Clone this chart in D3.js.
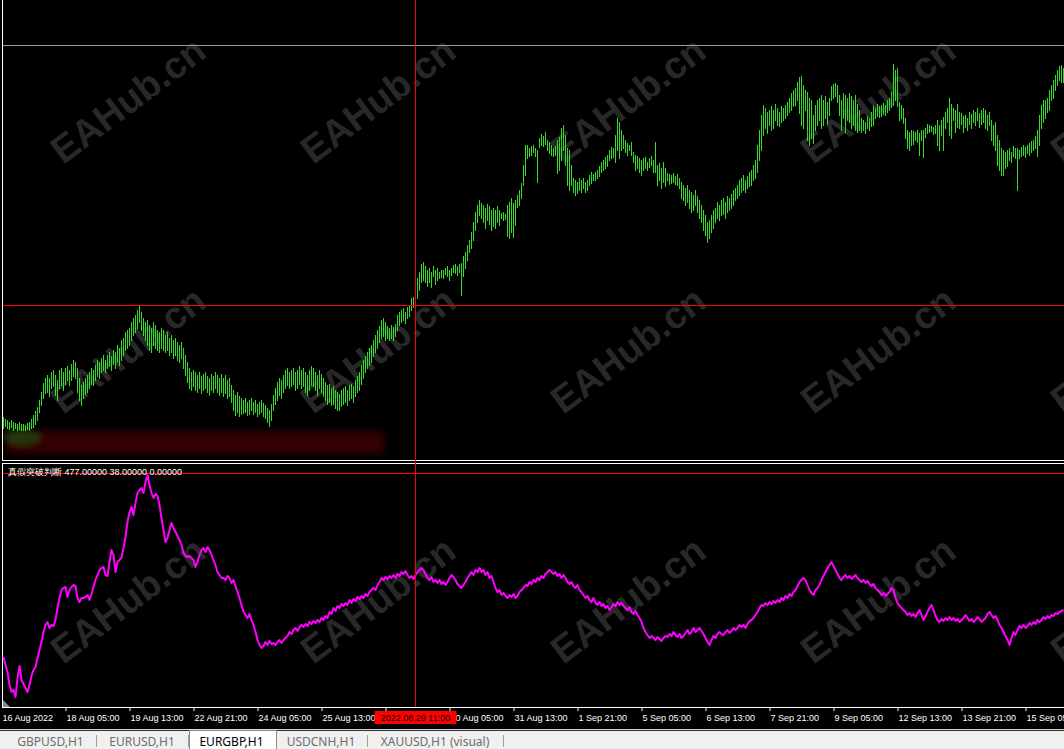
<!DOCTYPE html>
<html>
<head>
<meta charset="utf-8">
<script src="https://cdn.jsdelivr.net/npm/d3@7"></script>
<style>
  body { margin: 0; background: #000; overflow: hidden; }
  svg { display: block; }
</style>
</head>
<body>
<script>
// EURGBP H1, one bar per hour, prices in points (price * 10000)
const highs = [
  8413,8411,8410,8408,8410,8408,8407,8406,8408,8406, 8406,8405,8407,8408,8411,8415,8419,8423,8430,8438,
  8447,8452,8455,8452,8458,8460,8455,8450,8460,8462, 8458,8462,8464,8460,8466,8470,8468,8462,8452,8445,
  8448,8452,8455,8458,8462,8460,8465,8470,8468,8472, 8475,8470,8475,8478,8474,8480,8478,8485,8482,8490,
  8492,8498,8500,8502,8508,8512,8515,8520,8524,8518, 8512,8508,8510,8505,8502,8508,8505,8500,8498,8502,
  8500,8495,8498,8492,8495,8490,8492,8488,8485,8488, 8482,8475,8468,8462,8458,8460,8458,8455,8458,8454,
  8456,8458,8454,8452,8456,8454,8458,8455,8452,8456, 8452,8455,8450,8452,8445,8440,8435,8438,8434,8432,
  8430,8432,8428,8430,8432,8428,8430,8426,8428,8430, 8427,8425,8422,8420,8426,8435,8442,8448,8452,8450,
  8455,8460,8462,8458,8460,8462,8458,8460,8464,8460, 8462,8458,8455,8460,8464,8462,8458,8455,8460,8456,
  8452,8448,8445,8446,8442,8444,8440,8438,8436,8440, 8442,8444,8440,8445,8446,8444,8450,8454,8458,8465,
  8470,8474,8478,8482,8485,8490,8495,8500,8504,8510, 8512,8508,8504,8502,8505,8503,8506,8515,8518,8520,
  8522,8518,8523,8525,8532,8533,8545,8552,8558,8566, 8568,8564,8560,8562,8558,8564,8560,8562,8558,8560,
  8560,8562,8564,8560,8562,8565,8566,8564,8566,8567, 8574,8578,8585,8590,8598,8608,8618,8625,8630,8627,
  8625,8622,8626,8624,8620,8622,8620,8624,8620,8617, 8618,8616,8625,8628,8632,8627,8630,8635,8640,8647,
  8665,8685,8685,8682,8684,8685,8682,8680,8692,8696, 8694,8698,8690,8688,8685,8682,8684,8690,8693,8702,
  8705,8695,8682,8680,8665,8652,8650,8648,8652,8650, 8652,8648,8650,8655,8658,8656,8658,8660,8664,8668,
  8670,8673,8675,8680,8683,8682,8695,8712,8708,8700, 8695,8690,8687,8685,8688,8678,8675,8674,8672,8670,
  8672,8673,8668,8672,8674,8670,8688,8665,8667,8662, 8668,8662,8657,8656,8655,8657,8654,8656,8652,8648,
  8645,8642,8645,8640,8638,8635,8640,8634,8630,8625, 8620,8615,8608,8610,8615,8620,8622,8628,8625,8630,
  8632,8628,8634,8632,8636,8640,8642,8645,8650,8652, 8655,8650,8654,8658,8660,8665,8670,8685,8700,8715,
  8725,8722,8718,8720,8724,8720,8726,8722,8718,8724, 8722,8725,8728,8732,8737,8740,8742,8748,8753,8754,
  8745,8740,8738,8732,8730,8715,8725,8730,8732,8735, 8730,8734,8728,8732,8744,8746,8747,8745,8735,8730,
  8737,8735,8732,8737,8734,8730,8735,8726,8720,8712, 8710,8708,8714,8712,8718,8724,8722,8726,8724,8725,
  8727,8725,8730,8732,8738,8766,8760,8762,8728,8725, 8722,8712,8700,8698,8700,8699,8698,8700,8697,8700,
  8700,8702,8706,8705,8704,8703,8705,8710,8705,8710, 8713,8718,8722,8732,8726,8722,8720,8726,8718,8717,
  8714,8715,8712,8718,8716,8720,8718,8722,8717,8720, 8722,8720,8715,8718,8710,8705,8708,8695,8690,8682,
  8680,8678,8680,8682,8678,8684,8682,8682,8680,8683, 8685,8683,8685,8687,8689,8690,8694,8700,8715,8725,
  8730,8730,8732,8740,8745,8750,8755,8760,8764,8765, 8762
];
const lows = [
  8402,8404,8402,8401,8403,8400,8402,8400,8401,8400, 8400,8400,8401,8400,8402,8403,8406,8410,8418,8425,
  8432,8437,8438,8434,8442,8444,8435,8430,8442,8445, 8440,8446,8450,8445,8450,8454,8452,8438,8430,8425,
  8432,8436,8438,8442,8446,8445,8450,8454,8452,8458, 8460,8458,8462,8464,8460,8466,8462,8468,8465,8470,
  8475,8480,8482,8485,8490,8495,8498,8502,8508,8500, 8495,8490,8485,8480,8478,8485,8482,8480,8478,8482,
  8480,8478,8480,8475,8478,8472,8475,8470,8468,8472, 8462,8455,8448,8442,8440,8444,8440,8438,8442,8437,
  8440,8442,8438,8435,8440,8438,8442,8438,8435,8438, 8434,8437,8432,8434,8428,8420,8415,8418,8414,8416,
  8417,8418,8415,8416,8420,8416,8418,8414,8416,8418, 8414,8412,8408,8404,8410,8420,8426,8430,8435,8432,
  8438,8442,8445,8442,8444,8446,8440,8442,8446,8442, 8444,8438,8435,8440,8445,8444,8440,8435,8442,8438,
  8434,8430,8426,8428,8425,8426,8422,8420,8420,8424, 8426,8428,8425,8430,8432,8428,8434,8438,8440,8446,
  8452,8458,8462,8465,8468,8474,8478,8482,8488,8492, 8494,8490,8492,8490,8492,8490,8494,8500,8505,8508,
  8510,8507,8512,8514,8520,8523,8530,8532,8540,8548, 8550,8548,8544,8548,8543,8554,8546,8550,8552,8553,
  8552,8556,8554,8550,8555,8558,8557,8555,8558,8535, 8554,8562,8570,8578,8582,8590,8600,8608,8615,8612,
  8608,8602,8610,8606,8600,8604,8602,8608,8605,8612, 8610,8611,8594,8592,8598,8593,8605,8623,8625,8632,
  8645,8655,8672,8674,8675,8678,8674,8648,8683,8685, 8684,8686,8680,8677,8675,8674,8675,8657,8660,8670,
  8680,8665,8645,8640,8645,8638,8635,8637,8640,8638, 8642,8638,8640,8645,8647,8650,8650,8652,8654,8658,
  8660,8662,8664,8670,8672,8673,8668,8680,8672,8680, 8682,8678,8675,8680,8675,8668,8660,8662,8658,8655,
  8660,8662,8660,8663,8665,8658,8658,8645,8650,8642, 8648,8644,8650,8646,8647,8648,8646,8645,8642,8632,
  8630,8625,8628,8622,8618,8620,8625,8618,8612,8608, 8600,8595,8588,8592,8598,8602,8608,8612,8610,8615,
  8616,8612,8618,8620,8622,8625,8630,8632,8635,8638, 8640,8638,8642,8644,8645,8650,8652,8658,8670,8680,
  8695,8702,8697,8705,8700,8702,8710,8705,8704,8708, 8710,8712,8715,8718,8720,8724,8725,8730,8717,8705,
  8702,8720,8690,8685,8692,8687,8700,8705,8710,8702, 8705,8712,8706,8715,8730,8732,8734,8728,8715,8700,
  8712,8698,8710,8708,8702,8705,8700,8698,8700,8698, 8700,8697,8702,8700,8704,8705,8712,8714,8713,8714,
  8716,8715,8718,8720,8723,8725,8730,8724,8710,8712, 8707,8692,8682,8680,8685,8686,8690,8688,8675,8690,
  8673,8693,8697,8698,8699,8696,8697,8685,8680,8695, 8680,8702,8708,8695,8692,8710,8698,8703,8702,8706,
  8698,8703,8700,8706,8702,8708,8705,8710,8703,8706, 8708,8702,8700,8705,8690,8685,8680,8665,8660,8655,
  8655,8662,8664,8670,8668,8674,8672,8640,8672,8674, 8675,8673,8677,8675,8678,8680,8682,8674,8685,8702,
  8708,8712,8718,8720,8730,8732,8740,8745,8750,8748, 8748
];
// indicator buffer, one value per bar
const signal = [
  110,94,80,54,40,44,30,68,92,64, 56,48,40,54,72,84,90,108,124,140,
  160,174,180,168,174,172,184,208,228,244, 248,250,230,244,250,254,252,228,220,228,
  228,230,234,224,236,250,264,274,284,288, 290,274,272,300,324,314,280,300,304,308,
  328,350,380,400,410,394,418,438,444,448, 438,460,474,454,438,428,436,432,414,388,
  364,340,348,364,378,368,360,352,344,334, 318,312,310,312,308,304,290,300,314,324,
  328,320,330,324,314,304,294,280,274,268, 268,264,272,268,258,264,252,240,228,214,
  200,194,188,196,184,174,160,144,134,128, 132,140,134,142,136,138,134,140,144,138,
  144,148,152,160,156,164,168,162,170,174, 170,176,172,180,176,182,178,184,180,188,
  184,192,188,200,196,208,202,212,208,216, 212,218,214,224,218,226,222,230,226,232,
  228,236,232,240,244,248,244,254,260,268, 264,270,266,272,268,274,268,276,272,280,
  276,282,274,268,272,266,274,280,284,288, 284,276,268,264,270,260,264,258,264,256,
  260,254,260,268,274,270,264,256,252,248, 254,260,268,274,280,274,284,280,288,280,
  284,274,280,268,272,260,248,240,244,234, 238,232,228,234,230,236,228,232,240,244,
  248,254,252,260,256,264,260,268,264,272, 268,276,280,284,280,276,280,272,276,268,
  274,268,260,256,260,252,248,254,244,240, 234,228,232,224,220,228,218,214,220,212,
  216,208,212,204,210,216,212,220,214,218, 212,208,204,210,200,196,202,194,188,180,
  168,160,154,148,152,148,144,150,146,142, 148,152,150,156,152,160,154,150,156,148,
  152,158,164,156,160,168,160,164,168,162, 156,148,140,134,144,152,148,156,160,156,
  154,160,164,158,162,168,164,168,174,170, 174,168,176,182,184,188,194,200,208,214,
  212,218,214,220,216,222,218,224,220,228, 224,232,228,236,232,240,244,252,260,264,
  268,264,254,244,238,234,244,248,254,264, 272,280,288,294,300,292,284,276,268,264,
  270,274,268,272,266,270,274,268,264,260, 264,258,262,256,252,256,248,244,240,234,
  238,232,236,240,248,244,228,218,212,208, 204,200,194,198,192,196,190,198,204,194,
  184,192,200,208,214,204,192,184,180,186, 182,188,184,190,184,188,182,186,180,184,
  188,194,188,182,186,180,184,190,186,180, 184,188,196,200,194,188,192,184,174,168,
  160,152,144,134,148,160,154,164,172,168, 174,168,172,178,174,180,176,184,180,184,
  190,186,192,188,194,192,198,196,200,202, 204
];
const signalLevel = 477;
const signalTitle = "真假突破判断";
const signalValues = ["477.00000", "38.00000", "0.00000"];

// the 26 Aug 21:00 label sits under the cursor time box, so only its tick is drawn
const tickIndex = [0, 31, 63, 95, 127, 159, 191, 223, 255, 287, 319, 351, 383, 415, 447, 479, 511];
const tickLabels = ["16 Aug 2022", "18 Aug 05:00", "19 Aug 13:00", "22 Aug 21:00", "24 Aug 05:00",
  "25 Aug 13:00", "", "30 Aug 05:00", "31 Aug 13:00", "1 Sep 21:00", "5 Sep 05:00",
  "6 Sep 13:00", "7 Sep 21:00", "9 Sep 05:00", "12 Sep 13:00", "13 Sep 21:00", "15 Sep 05:00"];
const cursorIndex = 206;
const cursorLabel = "2022.08.29 11:00";
const cursorPrice = 8525;
const hlinePrice = 8785;

const tabs = ["GBPUSD,H1", "EURUSD,H1", "EURGBP,H1", "USDCNH,H1", "XAUUSD,H1 (visual)"];
const activeTab = 2;

const width = 1064;
const height = 749;
const font = "'Liberation Sans', Arial, sans-serif";

const svg = d3.select('body').append('svg')
  .attr('width', width)
  .attr('height', height);

svg.append('rect').attr('width', width).attr('height', height).attr('fill', '#000');

const x = d3.scaleLinear().domain([0, highs.length - 1]).range([3, 3 + 2 * (highs.length - 1)]);
const y = d3.scaleLinear().domain([8370, 8830]).range([460, 0]);
const ySig = d3.scaleLinear().domain([0, 488]).range([712, 468]);

const defs = svg.append('defs');
defs.append('filter').attr('id', 'blur').attr('x', '-20%').attr('y', '-50%')
  .attr('width', '140%').attr('height', '200%')
  .append('feGaussianBlur').attr('stdDeviation', 3);

// watermark
const wm = svg.append('g');
[100, 350, 600].forEach(cy => {
  [128, 378, 628, 878, 1128].forEach(cx => {
    wm.append('text')
      .attr('transform', `translate(${cx},${cy}) rotate(-37)`)
      .attr('text-anchor', 'middle')
      .attr('dominant-baseline', 'central')
      .attr('font-family', font)
      .attr('font-weight', 'bold')
      .attr('font-size', 38)
      .attr('fill', '#282828')
      .text('EAHub.cn');
  });
});

// dark glow band under the bars
const glow = svg.append('g').attr('filter', 'url(#blur)');
glow.append('rect').attr('x', 6).attr('y', 431).attr('width', 378).attr('height', 23).attr('fill', '#330000');
glow.append('ellipse').attr('cx', 22).attr('cy', 437).attr('rx', 18).attr('ry', 8).attr('fill', '#263608');

// horizontal line object
svg.append('line')
  .attr('x1', 3).attr('x2', width)
  .attr('y1', Math.round(y(hlinePrice)) + 0.5).attr('y2', Math.round(y(hlinePrice)) + 0.5)
  .attr('stroke', '#9a9a9a');

// price bars
svg.append('g').selectAll('line')
  .data(highs)
  .join('line')
  .attr('x1', (d, i) => x(i) + 0.5).attr('x2', (d, i) => x(i) + 0.5)
  .attr('y1', d => y(d))
  .attr('y2', (d, i) => y(lows[i]) + 1)
  .attr('stroke', '#32dc28')
  .attr('stroke-width', 1);

// pane borders
const border = svg.append('g').attr('stroke', '#fff').attr('stroke-width', 1);
border.append('line').attr('x1', 2.5).attr('x2', 2.5).attr('y1', 0).attr('y2', 461);
border.append('line').attr('x1', 2.5).attr('x2', 2.5).attr('y1', 463).attr('y2', 708);
border.append('line').attr('x1', 2).attr('x2', width).attr('y1', 460.5).attr('y2', 460.5);
border.append('line').attr('x1', 2).attr('x2', width).attr('y1', 463.5).attr('y2', 463.5);

// indicator pane
svg.append('line')
  .attr('x1', 3).attr('x2', width)
  .attr('y1', Math.round(ySig(signalLevel)) - 0.5).attr('y2', Math.round(ySig(signalLevel)) - 0.5)
  .attr('stroke', '#ff0000');

svg.append('path')
  .datum(signal)
  .attr('fill', 'none')
  .attr('stroke', '#ff00ff')
  .attr('stroke-width', 2)
  .attr('stroke-linejoin', 'round')
  .attr('d', d3.line().x((d, i) => x(i) + 0.5).y(d => ySig(d)));

svg.append('text')
  .attr('x', 8).attr('y', 475)
  .attr('font-family', font).attr('font-size', 9)
  .attr('fill', '#fff')
  .text(signalTitle + '  ' + signalValues.join(' '));

// crosshair
const cross = svg.append('g').attr('stroke', '#ff0000').attr('stroke-width', 1);
cross.append('line')
  .attr('x1', x(cursorIndex) + 0.5).attr('x2', x(cursorIndex) + 0.5)
  .attr('y1', 0).attr('y2', 707);
cross.append('line')
  .attr('x1', 3).attr('x2', width)
  .attr('y1', Math.round(y(cursorPrice)) + 0.5).attr('y2', Math.round(y(cursorPrice)) + 0.5);

// shift marker
svg.append('path').attr('d', 'M3,700L3,707L10,707Z').attr('fill', '#7f8c99');

// time axis
const axisG = svg.append('g').attr('transform', 'translate(0,707)');
axisG.call(d3.axisBottom(x).tickValues(tickIndex).tickSize(4)
  .tickFormat((d, i) => tickLabels[i]));
axisG.select('.domain').remove();
axisG.selectAll('.tick line').attr('stroke', '#fff').attr('transform', 'translate(0.5,0)')
  .filter(d => d === 0).remove();
axisG.selectAll('.tick text')
  .attr('fill', '#fff')
  .attr('font-family', font)
  .attr('font-size', 9)
  .attr('text-anchor', 'start')
  .attr('x', (d) => d === 0 ? -1 : 1)
  .attr('y', 14)
  .attr('dy', 0);
axisG.append('line').attr('x1', 2).attr('x2', width).attr('y1', 0.5).attr('y2', 0.5).attr('stroke', '#fff');

// cursor time label
const cx0 = x(cursorIndex) + 0.5;
svg.append('rect').attr('x', cx0 - 41).attr('y', 711).attr('width', 82).attr('height', 13).attr('fill', '#ff0000');
svg.append('text')
  .attr('x', cx0).attr('y', 721)
  .attr('text-anchor', 'middle')
  .attr('font-family', font).attr('font-size', 9)
  .attr('fill', '#000')
  .text(cursorLabel);

// tab bar
svg.append('rect').attr('x', 0).attr('y', 729).attr('width', width).attr('height', 20).attr('fill', '#f0f0f0');
svg.append('line').attr('x1', 0).attr('x2', width).attr('y1', 729.5).attr('y2', 729.5).attr('stroke', '#d8d8d8');
svg.append('line').attr('x1', 0).attr('x2', width).attr('y1', 730.5).attr('y2', 730.5).attr('stroke', '#303030');

const tabX = [6, 97, 189, 276, 368];
const tabW = [91, 92, 87, 92, 136];
const tabG = svg.append('g');
tabs.forEach((t, i) => {
  if (i === activeTab) {
    tabG.append('rect').attr('x', tabX[i] + 0.5).attr('y', 730.5).attr('width', tabW[i]).attr('height', 20)
      .attr('fill', '#fff').attr('stroke', '#8a8a8a');
  } else {
    tabG.append('line').attr('x1', tabX[i] + tabW[i] - 0.5).attr('x2', tabX[i] + tabW[i] - 0.5)
      .attr('y1', 735).attr('y2', 747).attr('stroke', '#a0a0a0');
  }
  tabG.append('text')
    .attr('x', tabX[i] + tabW[i] / 2 - 1).attr('y', 746)
    .attr('text-anchor', 'middle')
    .attr('font-family', "'Noto Sans', sans-serif").attr('font-size', 12)
    .attr('fill', i === activeTab ? '#000' : '#6d6d6d')
    .text(t);
});
</script>
</body>
</html>
